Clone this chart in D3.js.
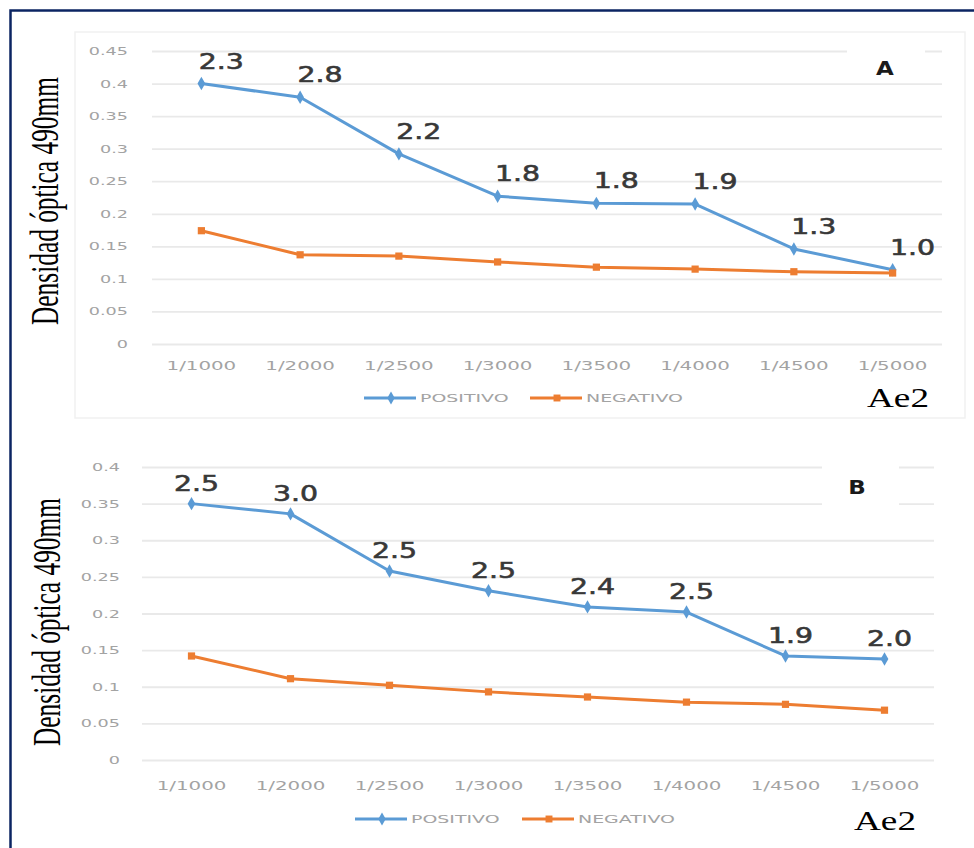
<!DOCTYPE html>
<html>
<head>
<meta charset="utf-8">
<script src="https://cdn.jsdelivr.net/npm/d3@7/dist/d3.min.js"></script>
<style>
  html, body { margin: 0; padding: 0; background: #fff; }
  svg { display: block; }
</style>
</head>
<body>
<svg id="chart" width="974" height="848"></svg>
<script>
// Dilution series (x axis)
const categories = ["1/1000", "1/2000", "1/2500", "1/3000", "1/3500", "1/4000", "1/4500", "1/5000"];

// Panel A: optical density at 490 nm
const ticksA = [0, 0.05, 0.1, 0.15, 0.2, 0.25, 0.3, 0.35, 0.4, 0.45];
const positivoA = [0.400, 0.379, 0.292, 0.227, 0.216, 0.215, 0.146, 0.114];
const negativoA = [0.174, 0.137, 0.135, 0.126, 0.118, 0.115, 0.111, 0.109];
const ratioA = ["2.3", "2.8", "2.2", "1.8", "1.8", "1.9", "1.3", "1.0"];

// Panel B: optical density at 490 nm
const ticksB = [0, 0.05, 0.1, 0.15, 0.2, 0.25, 0.3, 0.35, 0.4];
const positivoB = [0.350, 0.336, 0.258, 0.231, 0.209, 0.202, 0.142, 0.138];
const negativoB = [0.142, 0.111, 0.102, 0.093, 0.086, 0.079, 0.076, 0.068];
const ratioB = ["2.5", "3.0", "2.5", "2.5", "2.4", "2.5", "1.9", "2.0"];

const seriesNames = ["POSITIVO", "NEGATIVO"];
const BLUE = "#5b9bd5", ORANGE = "#ed7d31";

const svg = d3.select("#chart");

// Stretch text horizontally by a factor of its natural width
function stretch(sel, k) {
  sel.each(function () {
    const w = this.getComputedTextLength();
    d3.select(this).attr("textLength", w * k).attr("lengthAdjust", "spacingAndGlyphs");
  });
}

// Page frame
svg.append("path")
  .attr("d", "M10.5,848 V10.5 H974")
  .attr("fill", "none").attr("stroke", "#0b2462").attr("stroke-width", 2.5);

function drawPanel(p) {
  const g = svg.append("g");

  if (p.box) {
    g.append("rect")
      .attr("x", p.box[0]).attr("y", p.box[1])
      .attr("width", p.box[2]).attr("height", p.box[3])
      .attr("fill", "none").attr("stroke", "#f1f1f1").attr("stroke-width", 1.5);
  }

  const x = d3.scaleBand().domain(p.categories).range([p.left, p.right]);
  const y = d3.scaleLinear().domain([0, d3.max(p.ticks)]).range([p.bottom, p.top]);
  const cx = d => x(d) + x.bandwidth() / 2;

  // gridlines
  g.append("g")
    .attr("transform", `translate(${p.left},0)`)
    .call(d3.axisLeft(y).tickValues(p.ticks).tickSize(-(p.right - p.left)).tickFormat(""))
    .call(s => s.select(".domain").remove())
    .call(s => s.selectAll(".tick line").attr("stroke", "#e9e9e9").attr("stroke-width", 1.8));

  // y tick labels
  const ya = g.append("g")
    .attr("transform", `translate(${p.left},0)`)
    .call(d3.axisLeft(y).tickValues(p.ticks).tickSize(0).tickPadding(p.yPad).tickFormat(d => String(d)))
    .call(s => s.select(".domain").remove());
  ya.selectAll("text")
    .attr("fill", "#a3a3a3").attr("font-family", "DejaVu Sans").attr("font-size", 11);
  stretch(ya.selectAll("text"), 1.6);

  // x tick labels
  const xa = g.append("g")
    .attr("transform", `translate(0,${p.bottom})`)
    .call(d3.axisBottom(x).tickSize(0).tickPadding(p.xPad))
    .call(s => s.select(".domain").remove());
  xa.selectAll("text")
    .attr("fill", "#a3a3a3").attr("font-family", "DejaVu Sans").attr("font-size", 12);
  stretch(xa.selectAll("text"), 1.65);

  // white box behind the panel letter
  g.append("rect")
    .attr("x", p.letterBox[0]).attr("y", p.letterBox[1])
    .attr("width", p.letterBox[2]).attr("height", p.letterBox[3])
    .attr("fill", "#fff");
  const lt = g.append("text")
    .attr("x", p.letterPos[0]).attr("y", p.letterPos[1])
    .attr("text-anchor", "middle")
    .attr("font-family", "DejaVu Sans").attr("font-weight", "bold").attr("font-size", 20)
    .attr("fill", "#1a1a1a")
    .text(p.letter);
  stretch(lt, 1.15);

  const line = d3.line().x((d, i) => cx(p.categories[i])).y(d => y(d));
  const series = [
    { name: seriesNames[0], values: p.positivo, color: BLUE, symbol: d3.symbolDiamond },
    { name: seriesNames[1], values: p.negativo, color: ORANGE, symbol: d3.symbolSquare }
  ];

  series.forEach(s => {
    g.append("path")
      .datum(s.values)
      .attr("d", line)
      .attr("fill", "none").attr("stroke", s.color).attr("stroke-width", 3)
      .attr("stroke-linejoin", "round");
    g.selectAll(null)
      .data(s.values)
      .join("path")
      .attr("transform", (d, i) => `translate(${cx(p.categories[i])},${y(d)})`)
      .attr("d", d3.symbol(s.symbol, 52))
      .attr("fill", s.color);
  });

  // ratio labels above the positive series
  const labels = g.selectAll(null)
    .data(p.ratio)
    .join("text")
    .attr("x", (d, i) => cx(p.categories[i]) + p.labelDx)
    .attr("y", (d, i) => y(p.positivo[i]) + p.labelDy)
    .attr("text-anchor", "middle")
    .attr("font-family", "DejaVu Sans").attr("font-size", 21)
    .attr("fill", "#383838").attr("stroke", "#383838").attr("stroke-width", 0.6)
    .text(d => d);
  stretch(labels, 1.35);

  // legend
  series.forEach((s, i) => {
    const lx = p.legend[i];
    g.append("line")
      .attr("x1", lx).attr("x2", lx + 52)
      .attr("y1", p.legendY).attr("y2", p.legendY)
      .attr("stroke", s.color).attr("stroke-width", 3);
    g.append("path")
      .attr("transform", `translate(${lx + 27},${p.legendY})`)
      .attr("d", d3.symbol(s.symbol, 48))
      .attr("fill", s.color);
    const t = g.append("text")
      .attr("x", lx + 56).attr("y", p.legendY + 4)
      .attr("font-family", "DejaVu Sans").attr("font-size", 11)
      .attr("fill", "#a3a3a3")
      .text(s.name);
    stretch(t, 1.72);
  });

  // y axis title: condensed serif, scaled along its own baseline
  const title = g.append("text")
    .attr("text-anchor", "middle")
    .attr("font-family", "Liberation Serif").attr("font-size", 40)
    .attr("fill", "#000")
    .text("Densidad óptica 490mm");
  const natural = title.node().getComputedTextLength();
  title.attr("transform",
    `translate(${p.titleX},${p.titleY}) rotate(-90) scale(${p.titleLen / natural},1)`);

  g.append("text")
    .attr("x", p.aePos[0]).attr("y", p.aePos[1])
    .attr("font-family", "Liberation Serif").attr("font-size", 28)
    .attr("fill", "#000")
    .attr("textLength", 62).attr("lengthAdjust", "spacingAndGlyphs")
    .text("Ae2");
}

drawPanel({
  categories, ticks: ticksA, positivo: positivoA, negativo: negativoA, ratio: ratioA,
  left: 152, right: 942, top: 51, bottom: 344, yPad: 24, xPad: 17,
  box: [75, 32, 890, 386],
  letter: "A", letterPos: [885, 75], letterBox: [847, 44, 78, 20],
  labelDx: 20, labelDy: -15,
  legend: [364, 530], legendY: 398,
  titleX: 58, titleY: 201, titleLen: 248, aePos: [867, 407]
});

drawPanel({
  categories, ticks: ticksB, positivo: positivoB, negativo: negativoB, ratio: ratioB,
  left: 142, right: 934, top: 467, bottom: 760, yPad: 22, xPad: 21,
  box: null,
  letter: "B", letterPos: [857, 494], letterBox: [822, 460, 77, 50],
  labelDx: 5, labelDy: -13,
  legend: [355, 522], legendY: 819,
  titleX: 60, titleY: 622, titleLen: 248, aePos: [854, 830]
});
</script>
</body>
</html>
